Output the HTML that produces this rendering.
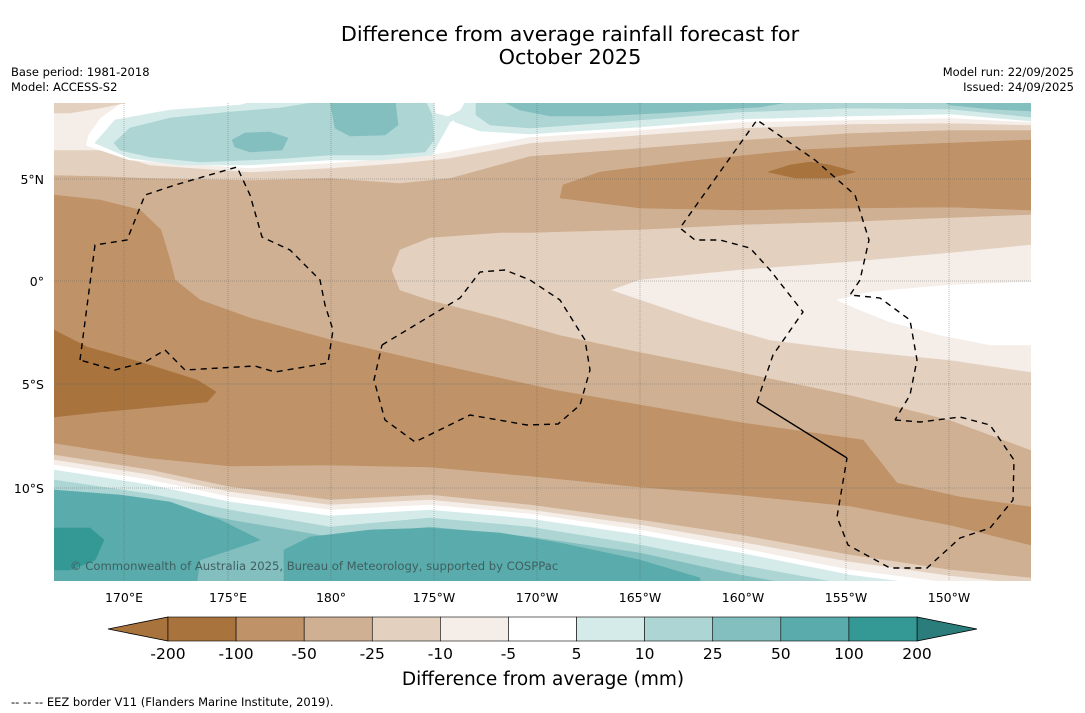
<!DOCTYPE html>
<html><head><meta charset="utf-8"><style>
body{margin:0;background:#fff;width:1085px;height:713px;overflow:hidden;font-family:"DejaVu Sans","Liberation Sans",sans-serif}
svg{position:absolute;left:0;top:0}
</style></head><body>
<svg id="s" width="1085" height="713" viewBox="0 0 1085 713" font-family="DejaVu Sans, Liberation Sans, sans-serif">
<defs><clipPath id="mc"><rect x="54" y="103" width="977" height="478"/></clipPath></defs>
<text x="570" y="41" text-anchor="middle" font-size="20.8">Difference from average rainfall forecast for</text>
<text x="570" y="64" text-anchor="middle" font-size="20.8">October 2025</text>
<text x="11" y="76" font-size="11.5">Base period: 1981-2018</text>
<text x="11" y="91" font-size="11.5">Model: ACCESS-S2</text>
<text x="1074" y="76" font-size="11.5" text-anchor="end">Model run: 22/09/2025</text>
<text x="1074" y="91" font-size="11.5" text-anchor="end">Issued: 24/09/2025</text>
<g id="map" clip-path="url(#mc)"></g>
<g id="grid"></g>
<g id="eez" clip-path="url(#mc)"></g>
<text x="70" y="570" font-size="11.6" fill="#3f5f60">© Commonwealth of Australia 2025, Bureau of Meteorology, supported by COSPPac</text>
<g id="axes"></g>
<g id="cbar"></g>
<text x="543" y="685" text-anchor="middle" font-size="18.5">Difference from average (mm)</text>
<text x="11" y="706" font-size="11.5">--  --  -- EEZ border V11 (Flanders Marine Institute, 2019).</text>
</svg>
<script>
const levels=[-200,-100,-50,-25,-10,-5,5,10,25,50,100,200];
const colors=["#a8733d","#bf9268","#d0b092","#e3d0bf","#f4ede8","#ffffff","#d5ebe9","#acd5d4","#83bfbe","#5aabab","#349995","#2a7d7a"];
const lonTicks=["170°E","175°E","180°","175°W","170°W","165°W","160°W","155°W","150°W"];
const latTicks=["5°N","0°","5°S","10°S"];
const NS="http://www.w3.org/2000/svg";
const C={m200:colors[0],m100:colors[1],m50:colors[2],m25:colors[3],m10:colors[4],w:colors[5],p5:colors[6],p10:colors[7],p25:colors[8],p50:colors[9],p100:colors[10]};
const X=[54,150,230,330,430,530,640,740,850,950,1031];
function el(tag,attrs,parent){const e=document.createElementNS(NS,tag);for(const k in attrs)e.setAttribute(k,attrs[k]);parent.appendChild(e);return e;}
const map=document.getElementById('map');
function poly(pts,fill,name){const e=el('polygon',{points:pts.map(p=>p.join(',')).join(' '),fill:fill,stroke:fill,'stroke-width':0.6},map);

return e;}
function below(ys,fill,name){const pts=X.map((x,i)=>[x,ys[i]]);pts.push([1031,600],[54,600]);poly(pts,fill,name);}
function above(xs,ys,fill,name){const pts=xs.map((x,i)=>[x,ys[i]]);pts.push([xs[xs.length-1],100],[xs[0],100]);poly(pts,fill,name);}
poly([[54,100],[1031,100],[1031,600],[54,600]],C.m50,'band-minus50');
const TX=[54,100,150,250,330,400,450,530,640,740,850,950,1031];
above(TX,[175,176,178,180,178,183,178,156,148,140,133,130,130],C.m25,'band-minus25-top');
above(TX,[150,150,165,172,168,163,158,143,135,128,124,123,125],C.m10,'band-minus10-top');
above([85,130,250,330,430,530,640,740,850,950,1031],[145,160,168,163,155,137,130,122,120,118,122],C.w,'band-white-top');
poly([[54,100],[125,100],[100,118],[88,135],[85,148],[54,150]],C.m10,'corner-minus10');
poly([[54,100],[140,100],[100,108],[70,113],[54,113]],C.m25,'corner-minus25');
poly([[95,143],[115,120],[170,110],[240,105],[260,100],[470,100],[470,110],[450,122],[440,140],[432,155],[380,160],[330,160],[250,165],[180,165],[130,158]],C.p5,'teal5-left');
poly([[440,100],[1031,100],[1031,121],[950,114],[850,116],[740,119],[640,127],[530,134],[480,131],[455,122]],C.p5,'teal5-right');
poly([[434,100],[466,100],[460,110],[448,116],[436,113]],C.w,'white-gap');
poly([[114,143],[130,128],[170,118],[230,112],[280,108],[330,100],[425,100],[432,115],[434,140],[425,152],[380,155],[330,155],[290,158],[250,160],[200,162],[150,157],[120,150]],C.p10,'teal10-left');
poly([[476,100],[1031,100],[1031,117],[950,109],[850,108],[740,112],[640,120],[530,128],[490,125],[476,115]],C.p10,'teal10-right');
poly([[500,100],[800,100],[760,107],[680,112],[600,116],[550,116],[520,110]],C.p25,'teal25-top');
poly([[940,100],[1031,100],[1031,111],[990,109],[950,105]],C.p25,'teal25-corner');
poly([[330,100],[395,100],[398,125],[385,135],[350,136],[335,128]],C.p25,'teal25-blob1');
poly([[232,140],[245,133],[270,132],[288,138],[282,150],[250,152],[235,147]],C.p25,'teal25-blob2');
poly([[563,185],[600,172],[700,160],[800,150],[900,145],[1031,140],[1031,210],[950,207],[850,208],[740,210],[640,208],[560,198]],C.m100,'band-minus100-north');
poly([[768,172],[790,165],[810,162],[830,165],[855,172],[830,178],[795,178]],C.m200,'blob-minus200-north');
poly([[392,270],[400,250],[430,238],[500,233],[530,233],[640,230],[740,225],[850,222],[950,218],[1031,215],[1031,450],[950,420],[850,395],[740,372],[640,352],[560,335],[500,318],[430,300],[400,290]],C.m25,'band-minus25-middle');
poly([[612,290],[640,280],[740,270],[850,262],[950,253],[1031,245],[1031,372],[950,360],[850,350],[770,340],[700,320]],C.m10,'band-minus10-middle');
poly([[837,300],[870,292],[950,285],[1031,282],[1031,345],[990,345],[940,335],[890,322],[860,310]],C.w,'band-white-middle');
poly([[54,195],[100,200],[140,210],[161,230],[170,260],[175,280],[200,300],[250,318],[331,340],[440,365],[554,390],[640,405],[743,423],[863,440],[897,483],[960,497],[1031,507],
[1031,545],[950,525],[850,506],[740,495],[640,487],[530,476],[430,467],[330,465],[230,466],[150,458],[54,443]],C.m100,'band-minus100-south');
poly([[54,330],[87,347],[140,362],[197,380],[216,392],[207,402],[154,407],[100,412],[54,417]],C.m200,'blob-minus200-south');
below([448,462,477,487,486,497,510,525,540,558,570],C.m50,'band-minus50-south');
below([455,470,487,500,495,505,520,535,555,570,578],C.m25,'band-minus25-south');
below([460,475,492,505,500,510,525,542,562,576,585],C.m10,'band-minus10-south');
below([465,480,497,510,505,514,530,548,570,583,590],C.w,'band-white-south');
below([470,485,502,516,510,519,535,553,575,588,595],C.p5,'band-teal5-south');
below([480,494,510,527,518,527,545,565,585,600,605],C.p10,'band-teal10-south');
below([490,503,520,537,527,537,553,575,595,610,615],C.p25,'band-teal25-south');
poly([[54,490],[120,495],[170,502],[220,520],[260,540],[200,560],[197,581],[54,581]],C.p50,'blob-teal50-sw');
poly([[284,550],[310,537],[370,530],[430,528],[500,533],[560,543],[640,560],[700,578],[700,590],[284,590]],C.p50,'blob-teal50-south');
poly([[54,528],[90,528],[104,540],[95,560],[70,570],[54,570]],C.p100,'blob-teal100');
const grid=document.getElementById('grid');
const lonX=[124,228,331,434,537,640,743,846,949], latY=[179,281,384,488];
const axes=document.getElementById('axes');
lonX.forEach((x,i)=>{const l=el('line',{x1:x,y1:103,x2:x,y2:581,stroke:'#555','stroke-width':0.5,'stroke-dasharray':'1,1',opacity:0.7},grid);


const t=el('text',{x:x,y:602,'text-anchor':'middle','font-size':12.5},axes);t.textContent=lonTicks[i];

});
latY.forEach((y,i)=>{const l=el('line',{x1:54,y1:y,x2:1031,y2:y,stroke:'#555','stroke-width':0.5,'stroke-dasharray':'1,1',opacity:0.7},grid);


const t=el('text',{x:44,y:y+5,'text-anchor':'end','font-size':12.5},axes);t.textContent=latTicks[i];

});
const eez=document.getElementById('eez');
const eezLines=[
[[80,360],[95,245],[127,240],[145,195],[175,185],[237,167],[250,195],[262,237],[290,250],[320,280],[325,305],[333,330],[328,363],[275,372],[255,366],[185,370],[165,350],[145,362],[115,370],[80,360]],
[[382,345],[460,298],[480,272],[505,270],[530,280],[560,300],[585,340],[590,370],[580,405],[558,424],[527,425],[470,415],[415,442],[385,420],[374,380],[382,345]],
[[757,402],[773,355],[803,312],[770,270],[750,248],[720,240],[695,240],[680,228],[757,120],[815,160],[855,195],[869,240],[860,280],[850,295],[880,298],[910,320],[917,360],[910,395],[895,420]],
[[895,420],[920,422],[960,417],[990,425],[1014,460],[1013,500],[990,528],[960,538],[927,568],[890,568],[848,545],[837,517],[847,458]]];
eezLines.forEach(L=>{const p=el('polyline',{points:L.map(q=>q.join(',')).join(' '),fill:'none',stroke:'#000','stroke-width':1.4,'stroke-dasharray':'6,5'},eez);

});
const sl=el('line',{x1:757,y1:402,x2:847,y2:458,stroke:'#000','stroke-width':1.4},eez);


const cb=document.getElementById('cbar');
const cx0=168,cx1=917,cy=617,ch=24,bw=(cx1-cx0)/(levels.length-1);
const lt=el('polygon',{points:`108,${cy+ch/2} ${cx0},${cy} ${cx0},${cy+ch}`,fill:colors[0],stroke:'#000','stroke-width':0.8},cb);


const rt=el('polygon',{points:`977,${cy+ch/2} ${cx1},${cy} ${cx1},${cy+ch}`,fill:colors[11],stroke:'#000','stroke-width':0.8},cb);


for(let i=0;i<levels.length-1;i++){const r=el('rect',{x:cx0+i*bw,y:cy,width:bw,height:ch,fill:colors[i],stroke:'#000','stroke-width':0.6},cb);

}
levels.forEach((v,i)=>{const t=el('text',{x:cx0+i*bw,y:cy+ch+18,'text-anchor':'middle','font-size':15.5},cb);t.textContent=v;

});
</script>
</body></html>
